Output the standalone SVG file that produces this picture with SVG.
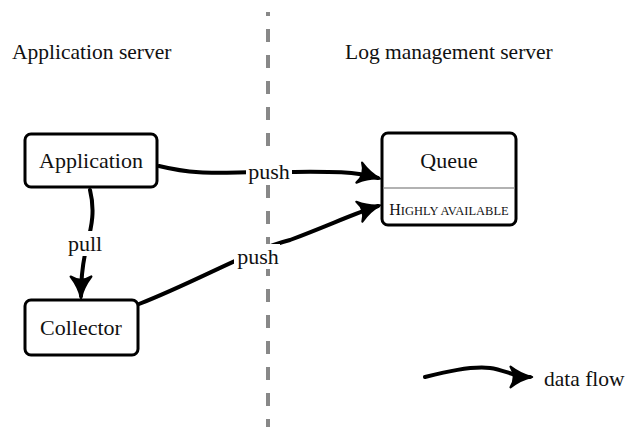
<svg xmlns="http://www.w3.org/2000/svg" width="625" height="427" viewBox="0 0 625 427">
  <defs>
    <marker id="arrow" viewBox="0 0 12 12" refX="10" refY="6" markerWidth="6.5" markerHeight="6.5" markerUnits="strokeWidth" orient="auto">
      <path d="M1,1.2 Q6,5 11,6 Q6,7 1,10.8 Q4,6 1,1.2 Z" fill="#000" stroke="#000" stroke-width="1" stroke-linejoin="round"/>
    </marker>
    <style>
      text { font-family: "Liberation Serif", "DejaVu Serif", serif; fill: #111; }
      .title { font-size: 21.5px; }
      .label { font-size: 22px; text-anchor: middle; }
      .box { fill: #fff; stroke: #000; stroke-width: 3; }
      .flow { fill: none; stroke: #000; stroke-width: 4; stroke-linecap: round; marker-end: url(#arrow); }
      .bg { fill: #fff; }
      .sc { font-size: 12.5px; text-anchor: middle; }
    </style>
  </defs>

  <!-- server boundary -->
  <line x1="268" y1="12" x2="268" y2="427" stroke="#888" stroke-width="4" stroke-dasharray="13,13" stroke-dashoffset="9"/>

  <text class="title" x="12" y="59">Application server</text>
  <text class="title" x="345" y="59">Log management server</text>

  <!-- connectors -->
  <g id="connectors">
    <path class="flow" d="M159,166 C200,176 220,172 270,172 C320,172 350,170 378,178"/>
    <path class="flow" d="M139,304 C200,280 250,250 290,240 C330,225 355,213 378,206"/>
    <path class="flow" d="M90,190 C95,210 92,225 87,245 C82,265 81,280 81,296"/>
    <path class="flow" d="M425,377 C445,372 470,366 490,368 C505,370 515,377 530,377"/>
    <rect class="bg" x="246" y="159" width="46" height="25"/>
    <text class="label" x="269" y="179">push</text>
    <rect class="bg" x="234" y="244" width="46" height="25"/>
    <text class="label" x="258" y="264">push</text>
    <rect class="bg" x="66" y="231" width="38" height="25"/>
    <text class="label" x="85" y="251">pull</text>
  </g>

  <g id="application">
    <rect class="box" x="25" y="134" width="132" height="53" rx="6"/>
    <text class="label" x="91" y="168">Application</text>
  </g>

  <g id="collector">
    <rect class="box" x="25" y="300" width="113" height="55" rx="6"/>
    <text class="label" x="81" y="335">Collector</text>
  </g>

  <g id="queue">
    <rect class="box" x="382" y="133" width="134" height="92" rx="6"/>
    <line x1="383.5" y1="188" x2="514.5" y2="188" stroke="#999" stroke-width="1.5"/>
    <text class="label" x="449" y="168">Queue</text>
    <text class="sc" x="449" y="215"><tspan font-size="16px">H</tspan>IGHLY AVAILABLE</text>
  </g>

  <g id="legend">
    <text class="title" x="544" y="386">data flow</text>
  </g>
</svg>
